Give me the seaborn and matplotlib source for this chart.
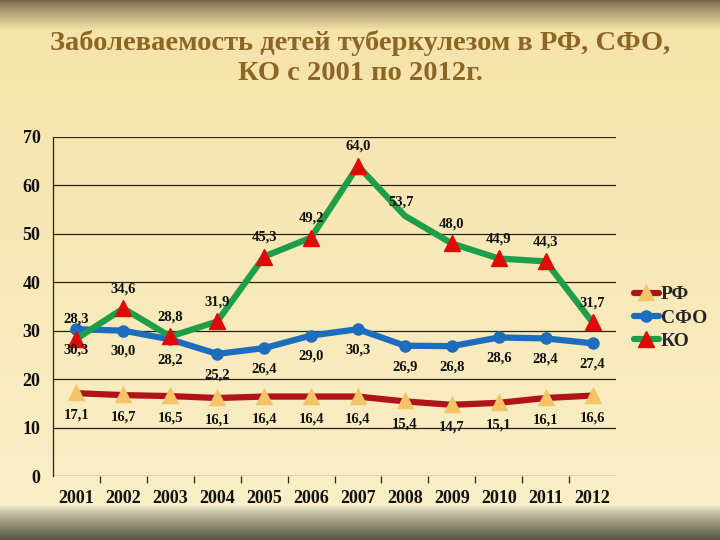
import numpy as np
import pandas as pd
import matplotlib
matplotlib.use("Agg")
import matplotlib.pyplot as plt
import seaborn as sns

years = [2001, 2002, 2003, 2004, 2005, 2006, 2007, 2008, 2009, 2010, 2011, 2012]
rf = [17.1, 16.7, 16.5, 16.1, 16.4, 16.4, 16.4, 15.4, 14.7, 15.1, 16.1, 16.6]
sfo = [30.3, 30.0, 28.2, 25.2, 26.4, 29.0, 30.3, 26.9, 26.8, 28.6, 28.4, 27.4]
ko = [28.3, 34.6, 28.8, 31.9, 45.3, 49.2, 64.0, 53.7, 48.0, 44.9, 44.3, 31.7]
series_names = ["РФ", "СФО", "КО"]
title = "Заболеваемость детей туберкулезом в РФ, СФО,\nКО с 2001 по 2012г."

sns.set_theme(style="white")
plt.rcParams['font.family'] = ['Liberation Serif', 'DejaVu Serif']

fig = plt.figure(figsize=(7.2, 5.4), dpi=100)

# background gradient
H = 540
bg = np.zeros((H, 1, 3))
top_c = np.array([0x74, 0x64, 0x44]) / 255
cream = np.array([0xF6, 0xE3, 0xAA]) / 255
cream2 = np.array([0xFA, 0xEE, 0xC6]) / 255
bot_c = np.array([0x55, 0x55, 0x3E]) / 255
for i in range(H):
    if i < 30:
        t = (i / 30) ** 0.8
        c = top_c * (1 - t) + cream * t
    elif i < 505:
        t = (i - 30) / 475
        c = cream * (1 - t) + cream2 * t
    else:
        t = ((i - 505) / 35) ** 0.8
        c = np.array([0xF2, 0xEE, 0xCC]) / 255 * (1 - t) + bot_c * t
    bg[i, 0] = c
bax = fig.add_axes([0, 0, 1, 1], zorder=-10)
bax.imshow(bg, aspect='auto', extent=[0, 1, 0, 1])
bax.set_axis_off()

fig.text(0.5, 0.893, title, ha='center', va='center', fontsize=20.5,
         fontweight='bold', color='#8C6626', linespacing=1.25)

ax = fig.add_axes([0.0736, 0.1185, 0.782, 0.628])
ax.patch.set_alpha(0)

df = pd.DataFrame({"year": years * 3,
                   "value": rf + sfo + ko,
                   "series": [series_names[0]] * 12 + [series_names[1]] * 12 + [series_names[2]] * 12})

styles = {
    "РФ": dict(color='#B0141A', marker='^', mfc='#F3C468', mec='#F3C468', ms=9, mew=2.5),
    "СФО": dict(color='#1C6DBE', marker='o', mfc='#1C6DBE', mec='#1C6DBE', ms=8, mew=1),
    "КО": dict(color='#1E9E48', marker='^', mfc='#E00A0A', mec='#E00A0A', ms=11, mew=1),
}
for name in series_names:
    st = styles[name]
    sub = df[df.series == name]
    me = list(range(12))
    if name == "КО":
        me = [i for i in range(12) if i != 7]
    sns.lineplot(data=sub, x="year", y="value", ax=ax, color=st['color'], lw=4.5,
                 marker=st['marker'], markerfacecolor=st['mfc'], markeredgecolor=st['mec'],
                 markersize=st['ms'], markeredgewidth=st['mew'], markevery=me,
                 label=name, solid_joinstyle='round', zorder=3)

lab_kw = dict(ha='center', va='center', fontsize=10.5, fontweight='bold', color='#111111', zorder=5)
fmt = lambda v: f"{v:.1f}".replace('.', ',')
for x, v in zip(years, rf):
    ax.annotate(fmt(v), (x, v), xytext=(0, -16), textcoords='offset points', **lab_kw)
for x, v in zip(years, sfo):
    ax.annotate(fmt(v), (x, v), xytext=(0, -15), textcoords='offset points', **lab_kw)
for i, (x, v) in enumerate(zip(years, ko)):
    off = (0, 14)
    if i == 7:
        off = (-3, 10)
    ax.annotate(fmt(v), (x, v), xytext=off, textcoords='offset points', **lab_kw)

ax.set_xlim(2000.5, 2012.5)
ax.set_ylim(0, 70)
ax.set_yticks(range(0, 71, 10))
ax.set_xticks(years)
ax.set_xticklabels([str(y) for y in years])
ax.set_xticks(np.arange(2001.5, 2012, 1), minor=True)
ax.grid(axis='y', color='#2a2418', lw=0.9)
ax.grid(axis='x', visible=False)
ax.set_axisbelow(True)
for s in ['top', 'right', 'bottom']:
    ax.spines[s].set_visible(False)
ax.spines['left'].set_color('#2a2418')
ax.spines['left'].set_linewidth(0.9)
ax.tick_params(axis='y', which='major', length=5, width=0.9, color='#2a2418', labelsize=13, pad=4)
ax.tick_params(axis='x', which='major', length=0, labelsize=13, pad=10)
ax.tick_params(axis='x', which='minor', bottom=True, length=5, width=0.9, color='#2a2418')
for lbl in ax.get_xticklabels() + ax.get_yticklabels():
    lbl.set_fontweight('bold')
    lbl.set_color('#111111')
ax.set_xlabel('')
ax.set_ylabel('')

leg = ax.legend(loc='center left', bbox_to_anchor=(1.0, 0.466), frameon=False,
                prop={'size': 14, 'weight': 'bold'}, handlelength=1.3, handletextpad=0.1,
                labelspacing=0.3, borderaxespad=0.5)

fig.savefig('out.png', dpi=100)
